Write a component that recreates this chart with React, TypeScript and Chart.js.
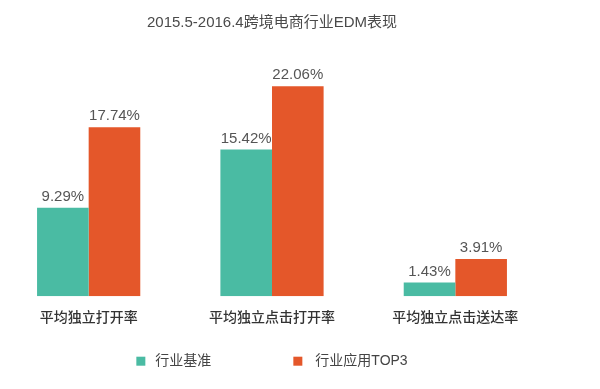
import React, { useEffect, useRef } from "react";
import { Chart, registerables } from "chart.js";

Chart.register(...registerables);

const titleText = "2015.5-2016.4跨境电商行业EDM表现";
const categories = ["平均独立打开率", "平均独立点击打开率", "平均独立点击送达率"];
const seriesNames = ["行业基准", "行业应用TOP3"];
const benchmarkValues = [9.29, 15.42, 1.43];
const top3Values = [17.74, 22.06, 3.91];
const yMax = 25;

const TEAL = "#4ABBA3";
const ORANGE = "#E4572A";
const CJK = "'Noto Sans CJK SC', sans-serif";
const LATIN = "'Liberation Sans', 'Noto Sans CJK SC', sans-serif";

const valueLabelPlugin = {
  id: "valueLabels",
  afterDatasetsDraw(chart: any) {
    const ctx = chart.ctx;
    ctx.save();
    ctx.font = `15px ${LATIN}`;
    ctx.fillStyle = "#555555";
    ctx.textAlign = "center";
    ctx.textBaseline = "middle";
    chart.data.datasets.forEach((ds: any, di: number) => {
      const meta = chart.getDatasetMeta(di);
      meta.data.forEach((bar: any, i: number) => {
        const v = ds.data[i];
        ctx.fillText(v.toFixed(2) + "%", bar.x, bar.y - 11);
      });
    });
    ctx.restore();
  },
};

const customLegendPlugin = {
  id: "customLegend",
  afterDraw(chart: any) {
    const ctx = chart.ctx;
    const ca = chart.chartArea;
    const cx = (ca.left + ca.right) / 2;
    const y = ca.bottom + 65;
    const ds = chart.data.datasets;
    ctx.save();
    ctx.font = `14px ${LATIN}`;
    const w0 = ctx.measureText(ds[0].label).width;
    const w1 = ctx.measureText(ds[1].label).width;
    const sq = 9;
    const gapA = 10;
    const gapB = 82;
    const gapC = 13;
    const total = sq + gapA + w0 + gapB + sq + gapC + w1;
    let x = cx - total / 2;
    ctx.textBaseline = "middle";
    ctx.textAlign = "left";
    ctx.fillStyle = ds[0].backgroundColor;
    ctx.fillRect(x, y - sq / 2, sq, sq);
    x += sq + gapA;
    ctx.fillStyle = "#444444";
    ctx.fillText(ds[0].label, x, y);
    x += w0 + gapB;
    ctx.fillStyle = ds[1].backgroundColor;
    ctx.fillRect(x, y - sq / 2, sq, sq);
    x += sq + gapC;
    ctx.fillStyle = "#444444";
    ctx.fillText(ds[1].label, x, y);
    ctx.restore();
  },
};

export default function App() {
  const ref = useRef<HTMLCanvasElement | null>(null);

  useEffect(() => {
    if (!ref.current) return;
    const chart = new Chart(ref.current, {
      type: "bar",
      data: {
        labels: categories,
        datasets: [
          {
            label: seriesNames[0],
            data: benchmarkValues,
            backgroundColor: TEAL,
            categoryPercentage: 0.563,
            barPercentage: 1.0,
          },
          {
            label: seriesNames[1],
            data: top3Values,
            backgroundColor: ORANGE,
            categoryPercentage: 0.563,
            barPercentage: 1.0,
          },
        ],
      },
      options: {
        animation: false,
        responsive: true,
        maintainAspectRatio: false,
        layout: { padding: { left: 0, right: 0, top: 0, bottom: 52 } },
        plugins: {
          legend: { display: false },
          tooltip: { enabled: false },
          title: {
            display: true,
            text: titleText,
            color: "#4a4a4a",
            font: { family: LATIN, size: 15, weight: "normal" },
            padding: { top: 13.6, bottom: 26.6 },
          },
        },
        scales: {
          x: {
            grid: { display: false, drawTicks: false },
            border: { display: false },
            ticks: {
              color: "#333333",
              font: { family: CJK, size: 14, weight: 500 },
              padding: 12,
              maxRotation: 0,
            },
          },
          y: {
            display: false,
            min: 0,
            max: yMax,
          },
        },
      },
      plugins: [valueLabelPlugin, customLegendPlugin],
    });
    return () => chart.destroy();
  }, []);

  return (
    <div
      style={{
        position: "absolute",
        left: -3,
        top: 0,
        width: 550,
        height: 389,
        background: "#ffffff",
      }}
    >
      <canvas ref={ref} />
    </div>
  );
}
